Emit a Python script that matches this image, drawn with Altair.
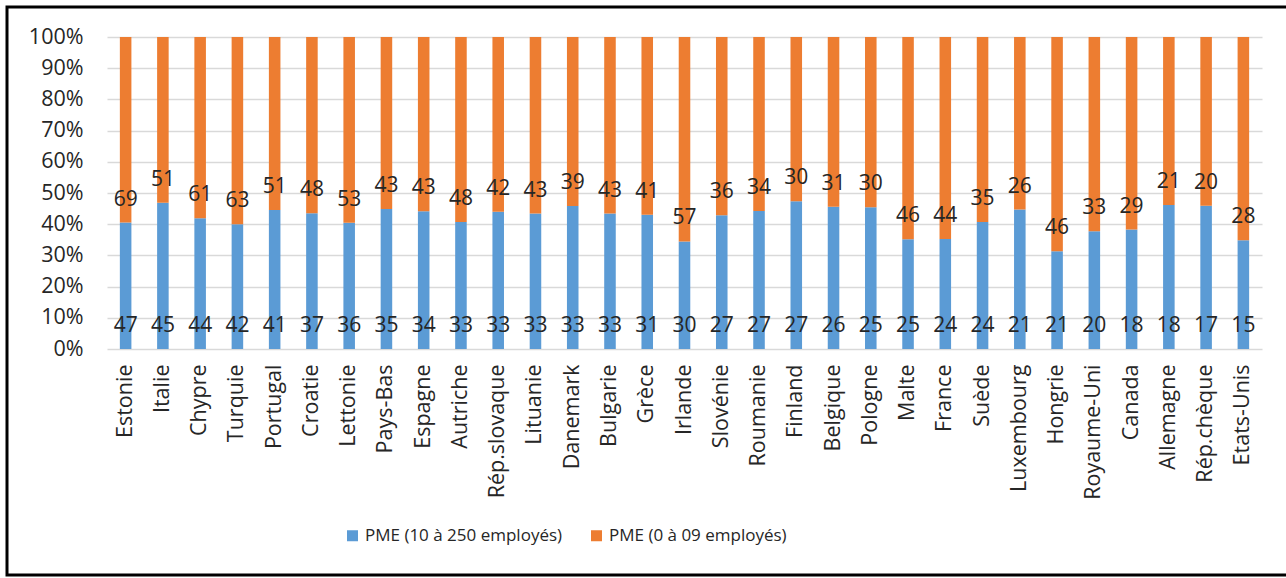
import altair as alt
import pandas as pd

countries = ["Estonie", "Italie", "Chypre", "Turquie", "Portugal", "Croatie", "Lettonie",
             "Pays-Bas", "Espagne", "Autriche", "Rép.slovaque", "Lituanie", "Danemark",
             "Bulgarie", "Grèce", "Irlande", "Slovénie", "Roumanie", "Finland", "Belgique",
             "Pologne", "Malte", "France", "Suède", "Luxembourg", "Hongrie", "Royaume-Uni",
             "Canada", "Allemagne", "Rép.chèque", "Etats-Unis"]
pme_10_250 = [47, 45, 44, 42, 41, 37, 36, 35, 34, 33, 33, 33, 33, 33, 31, 30, 27, 27, 27,
              26, 25, 25, 24, 24, 21, 21, 20, 18, 18, 17, 15]
pme_0_09 = [69, 51, 61, 63, 51, 48, 53, 43, 43, 48, 42, 43, 39, 43, 41, 57, 36, 34, 30,
            31, 30, 46, 44, 35, 26, 46, 33, 29, 21, 20, 28]
y_ticks = [0.0, 0.1, 0.2, 0.3, 0.4, 0.5, 0.6, 0.7, 0.8, 0.9, 1.0]

series_names = ["PME (10 à 250 employés)", "PME (0 à 09 employés)"]
colors = ["#5B9BD5", "#ED7D31"]

rows = []
for c, b, o in zip(countries, pme_10_250, pme_0_09):
    fb = b / (b + o)
    rows.append({"pays": c, "serie": series_names[0], "val": b, "y0": 0.0, "y1": fb, "ly": 0.0})
    rows.append({"pays": c, "serie": series_names[1], "val": o, "y0": fb, "y1": 1.0, "ly": fb})
df = pd.DataFrame(rows)

FONT = "Open Sans"
TXT = "#262626"

x_scale = alt.Scale(paddingInner=0.69, paddingOuter=0.345)
y_scale = alt.Scale(domain=[0, 1], nice=False)
x_axis = alt.Axis(labelAngle=-90, labelPadding=15, ticks=False, domain=False,
                  labelFontSize=21.5, labelFont=FONT, labelColor=TXT, grid=False,
                  labelOverlap=False)
y_axis = alt.Axis(format=".0%", values=y_ticks, ticks=False, labelOverlap=False,
                  domain=False, labelPadding=24, labelFontSize=21.5, labelFont=FONT,
                  labelColor=TXT, gridColor="#D9D9D9", gridWidth=1.5)

bars = alt.Chart(df).mark_bar().encode(
    x=alt.X("pays:N", sort=countries, title=None, scale=x_scale, axis=x_axis),
    y=alt.Y("y0:Q", scale=y_scale, title=None, axis=y_axis),
    y2="y1:Q",
    color=alt.Color("serie:N", sort=series_names,
                    scale=alt.Scale(domain=series_names, range=colors),
                    legend=alt.Legend(title=None, orient="none", legendX=237, legendY=490,
                                      direction="horizontal", symbolType="square",
                                      symbolSize=121, symbolStrokeWidth=0, labelFontSize=17,
                                      labelFont=FONT, labelColor=TXT, labelOffset=4,
                                      labelLimit=400, columnPadding=25)),
)

labels = alt.Chart(df).mark_text(baseline="alphabetic", dy=-17, fontSize=21, font=FONT,
                                 color=TXT).encode(
    x=alt.X("pays:N", sort=countries, title=None, scale=x_scale, axis=x_axis),
    y=alt.Y("ly:Q", scale=y_scale, title=None, axis=y_axis),
    text="val:Q",
)

frame = alt.Chart(pd.DataFrame({"a": [0]})).mark_rect(
    fill=None, stroke="black", strokeWidth=3
).encode(
    x=alt.value(-100), x2=alt.value(1200), y=alt.value(-30), y2=alt.value(538)
)

chart = alt.layer(bars, labels, frame).properties(
    width=1155, height=312,
    autosize=alt.AutoSizeParams(type="none"),
    padding={"left": 107, "top": 37, "right": 24, "bottom": 229},
    background="white",
).configure_view(stroke=None)

chart.save("out.html", embed_options={"renderer": "svg", "actions": False})
